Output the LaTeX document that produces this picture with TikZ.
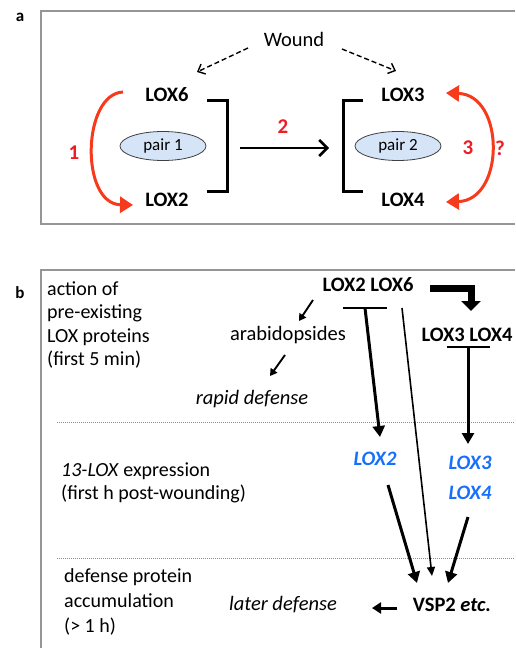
\documentclass[tikz,border=0pt]{standalone}
\usepackage{fontspec}
\setmainfont{Carlito}
\usetikzlibrary{arrows.meta,shapes.geometric}
\definecolor{arcred}{RGB}{248,58,28}
\definecolor{numred}{RGB}{238,28,36}
\definecolor{lblue}{RGB}{214,228,248}
\definecolor{genblue}{RGB}{24,112,250}
\definecolor{boxgray}{RGB}{150,150,150}
\begin{document}
\begin{tikzpicture}[x=1pt,y=-1pt,
  txt/.style={inner sep=0, font=\fontsize{20.5}{24}\selectfont},
  gene/.style={inner sep=0, font=\fontsize{20.5}{24}\selectfont\bfseries},
  bgene/.style={inner sep=0, text=genblue, font=\fontsize{20.5}{30}\selectfont\bfseries\itshape, align=center},
  panel/.style={inner sep=0, font=\fontsize{17}{20}\selectfont\bfseries},
  num/.style={inner sep=0, text=numred, font=\fontsize{21}{24}\selectfont\bfseries},
  pairbox/.style={ellipse, draw=black!75, line width=0.8, fill=lblue, minimum width=86, minimum height=29, inner sep=0, font=\fontsize{17}{20}\selectfont},
  frame/.style={draw=boxgray, line width=1.3},
  dashar/.style={line width=1.4, dash pattern=on 5pt off 3pt, -{Straight Barb[length=6,width=11,line width=1.4]}},
  redarc/.style={draw=arcred, line width=3},
  bracketline/.style={line width=3, line cap=butt},
  blkar/.style={line width=3, -{Triangle[length=11,width=12]}},
  thinar/.style={line width=1.6, -{Triangle[length=9,width=8]}},
  smallar/.style={line width=1.9, -{Triangle[length=7,width=8]}},
  tbar/.style={line width=2},
  dotline/.style={draw=black!45, line width=0.8, dash pattern=on 1pt off 1pt}]
\useasboundingbox (0,0) rectangle (515,648);

% ---------- panel a ----------
\draw[frame] (515,11) -- (41,11) -- (41,224) -- (515,224);
\node[panel] (la) at (20,17) {a};
\node[txt] (wound) at (294,39) {Wound};
\node[gene] (lox6) at (167,95) {LOX6};
\node[gene] (lox2) at (167,200) {LOX2};
\node[gene] (lox3) at (403,95) {LOX3};
\node[gene] (lox4) at (403,200) {LOX4};
\node[pairbox] (p1) at (163,146) {pair 1};
\node[pairbox] (p2) at (398,146) {pair 2};

\coordinate (w1) at (248,48);
\coordinate (w1e) at (197,72);
\coordinate (w2) at (342,49);
\coordinate (w2e) at (396,71);
\draw[dashar] (w1) -- (w1e);
\draw[dashar] (w2) -- (w2e);

\draw[bracketline] (207,100) -- (227,100) -- (227,191) -- (207,191);
\draw[bracketline] (363,100) -- (343,100) -- (343,191) -- (363,191);

\coordinate (a2s) at (240,148);
\coordinate (a2e) at (329,148);
\draw[line width=2.5, -{Straight Barb[length=8,width=16,line width=2.5]}] (a2s) -- (a2e);
\node[num] (n2) at (283,127) {2};

\coordinate (r1s) at (123,92);
\coordinate (r1e) at (133,205);
\draw[redarc, -{Triangle[length=13,width=16]}] (r1s) .. controls (82,94) and (80,204) .. (r1e);
\node[num] (n1) at (74,153) {1};

\coordinate (r3s) at (446,93);
\coordinate (r3e) at (446,202);
\draw[redarc, {Triangle[length=13,width=16]}-{Triangle[length=13,width=16]}] (r3s) .. controls (505,95) and (505,200) .. (r3e);
\node[num] (n3) at (468,148) {3};
\node[num] (nq) at (500,148) {?};

% ---------- panel b ----------
\draw[frame] (515,270) -- (41,270) -- (41,648);
\node[panel] (lb) at (20,293) {b};

\node[txt, anchor=west, align=left, font=\fontsize{20}{23.3}\selectfont] (t1) at (47,325)
  {action of\\pre-existing\\LOX proteins\\(first 5 min)};
\node[txt, anchor=west, align=left, font=\fontsize{20}{23.3}\selectfont] (t2) at (61,482.5)
  {\textit{13-LOX} expression\\(first h post-wounding)};
\node[txt, anchor=west, align=left, font=\fontsize{20}{25}\selectfont] (t3) at (64,602)
  {defense protein\\accumulation\\(> 1 h)};

\node[gene] (l26) at (368,285) {LOX2 LOX6};
\node[gene] (l34) at (467,335) {LOX3 LOX4};
\node[txt] (arab) at (288,335) {arabidopsides};
\node[txt] (rapid) at (252,399) {\textit{rapid defense}};
\node[bgene] (b2) at (375,459) {LOX2};
\node[bgene] (b34) at (470,478) {LOX3\\LOX4};
\node[gene] (vsp) at (452,605) {VSP2 \textit{etc.}};
\node[txt] (later) at (283,605) {\textit{later defense}};

\coordinate (d1a) at (57,422);
\coordinate (d1b) at (515,422);
\coordinate (d2a) at (57,558);
\coordinate (d2b) at (515,558);
\draw[dotline] (d1a) -- (d1b);
\draw[dotline] (d2a) -- (d2b);

% elbow arrow
\coordinate (e1) at (430,288);
\coordinate (e2) at (471,288);
\coordinate (e3) at (471,311);
\draw[line width=7, -{Triangle[length=10,width=19]}] (e1) -- (e2) -- (e3);

% small arrows
\coordinate (s1) at (313,300);
\coordinate (s1e) at (299,321);
\coordinate (s2) at (285,355);
\coordinate (s2e) at (270,376);
\draw[smallar] (s1) -- (s1e);
\draw[smallar] (s2) -- (s2e);

% T-bar 1
\coordinate (t1a) at (343,308);
\coordinate (t1b) at (387,308);
\coordinate (t1m) at (365,308);
\coordinate (t1e) at (380,437);
\draw[tbar] (t1a) -- (t1b);
\draw[blkar] (t1m) -- (t1e);

% thin arrow
\coordinate (th1) at (402,308);
\coordinate (th1e) at (432,576);
\draw[thinar] (th1) -- (th1e);

% T-bar 2
\coordinate (t2a) at (447,347);
\coordinate (t2b) at (490,347);
\coordinate (t2m) at (468,347);
\coordinate (t2e) at (468,444);
\draw[tbar] (t2a) -- (t2b);
\draw[blkar] (t2m) -- (t2e);

% to VSP2
\coordinate (v1) at (388,485);
\coordinate (v1e) at (417,583);
\coordinate (v2) at (468,517);
\coordinate (v2e) at (448,583);
\draw[blkar] (v1) -- (v1e);
\draw[blkar] (v2) -- (v2e);

% VSP2 -> later defense
\coordinate (vl) at (397,608);
\coordinate (vle) at (372,608);
\draw[line width=3, -{Triangle[length=9,width=11]}] (vl) -- (vle);
\end{tikzpicture}
\end{document}
